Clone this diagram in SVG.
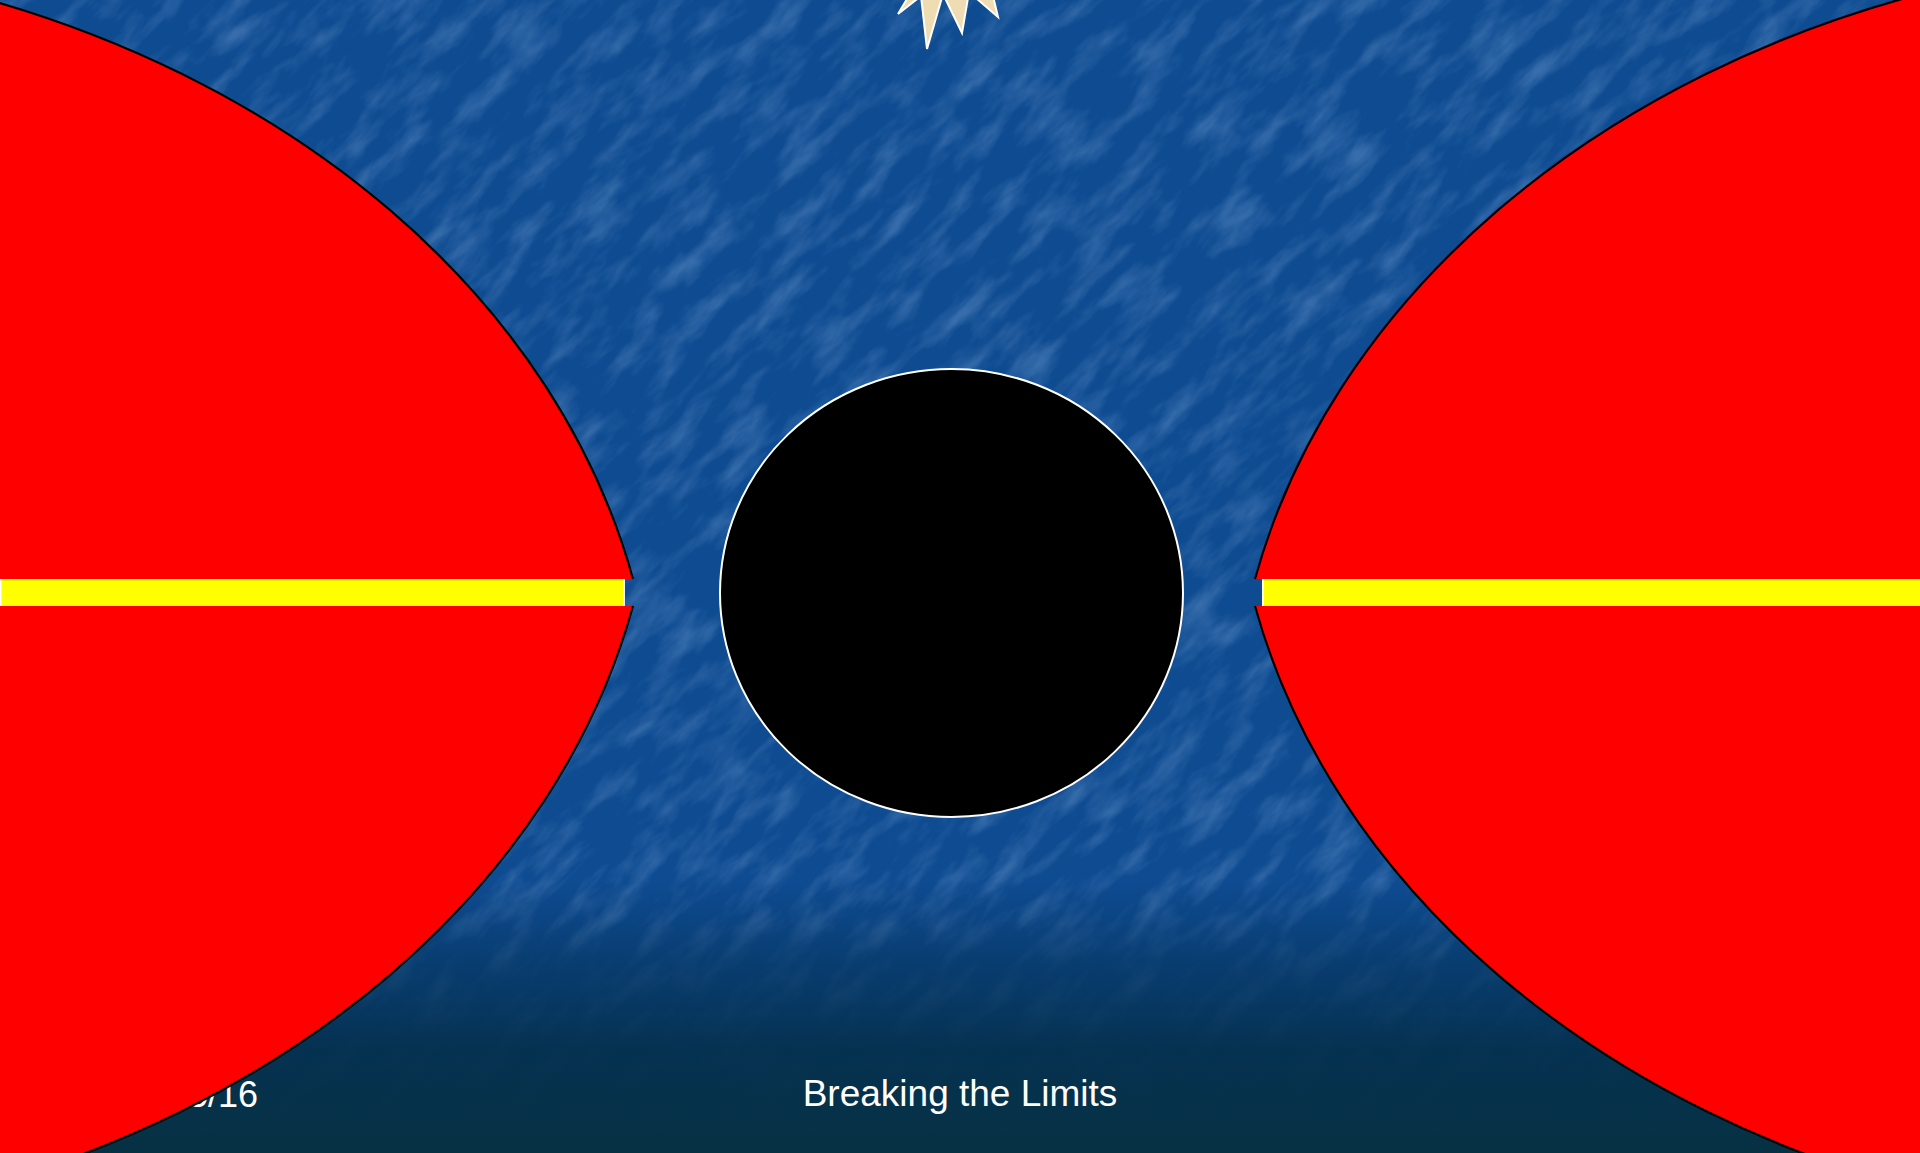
<svg xmlns="http://www.w3.org/2000/svg" xmlns:xlink="http://www.w3.org/1999/xlink" width="1920" height="1153" viewBox="0 0 1920 1153">
  <style>
    .red { fill: #ff0000; stroke: none; }
    .edge { fill: none; stroke: #000000; stroke-width: 2.2; }
    .bar { fill: #ffff00; }
    .barend { fill: #ffffff; }
    .foot { font-family: "Liberation Sans", Arial, sans-serif; fill: #ffffff; }
  </style>
  <defs>
    <filter id="tex" x="0" y="0" width="1" height="1">
      <feTurbulence type="fractalNoise" baseFrequency="0.016 0.045" numOctaves="4" seed="11" result="n"/>
      <feColorMatrix in="n" type="matrix" values="0 0 0 0 0.5  0 0 0 0 0.7  0 0 0 0 1  2.2 0 0 0 -0.95"/>
    </filter>
    <linearGradient id="bottomDark" gradientUnits="userSpaceOnUse" x1="0" y1="880" x2="0" y2="1153">
      <stop offset="0" stop-color="#07386a" stop-opacity="0"/>
      <stop offset="0.3" stop-color="#063762" stop-opacity="0.7"/>
      <stop offset="0.6" stop-color="#05304f" stop-opacity="0.95"/>
      <stop offset="1" stop-color="#063143" stop-opacity="1"/>
    </linearGradient>
    <path id="lensFill" d="M-70,-12 L-55.8,-12 A1013,795 0 0,1 633,579 L-70,579 Z M633,606 A1013,795 0 0,1 -55.8,1197 L-70,1197 L-70,606 Z"/>
    <path id="lensEdge" d="M-55.8,-12 A1013,795 0 0,1 633,579 M633,606 A1013,795 0 0,1 -55.8,1197"/>
  </defs>

  <g id="background">
    <rect x="0" y="0" width="1920" height="1153" fill="#0e4b91"/>
    <g transform="rotate(-45 960 576)" opacity="0.24">
      <rect x="-700" y="-900" width="3320" height="2950" fill="#ffffff" filter="url(#tex)"/>
    </g>
    <rect x="0" y="880" width="1920" height="273" fill="url(#bottomDark)"/>
  </g>

  <g id="footer-date">
    <text class="foot" x="258" y="1107" font-size="36" text-anchor="end">5/16</text>
  </g>

  <g id="left-lens">
    <use xlink:href="#lensFill" class="red"/>
    <use xlink:href="#lensEdge" class="edge"/>
  </g>

  <g id="right-lens" transform="rotate(180 944 592.5)">
    <use xlink:href="#lensFill" class="red"/>
    <use xlink:href="#lensEdge" class="edge"/>
  </g>

  <g id="left-bar">
    <rect class="bar" x="0" y="579" width="623" height="27"/>
    <rect class="barend" x="0" y="579" width="1.5" height="27"/>
    <rect class="barend" x="623" y="579" width="2" height="27"/>
  </g>

  <g id="right-bar">
    <rect class="barend" x="1262" y="579" width="2" height="27"/>
    <rect class="bar" x="1264" y="579" width="656" height="27"/>
  </g>

  <g id="center-circle">
    <ellipse cx="951.5" cy="593" rx="231.5" ry="224" fill="#000000" stroke="#ffffff" stroke-width="2"/>
  </g>

  <g id="star">
    <polygon points="905,-40 910,-6 898,14 921,-4 927,49 943,-6 962,33 969,-8 998,17 992,-8 990,-40" fill="#efdcb3" stroke="#ffffff" stroke-width="2" stroke-linejoin="miter"/>
  </g>

  <g id="footer-title">
    <text class="foot" x="960" y="1106" font-size="37" text-anchor="middle">Breaking the Limits</text>
  </g>
</svg>
